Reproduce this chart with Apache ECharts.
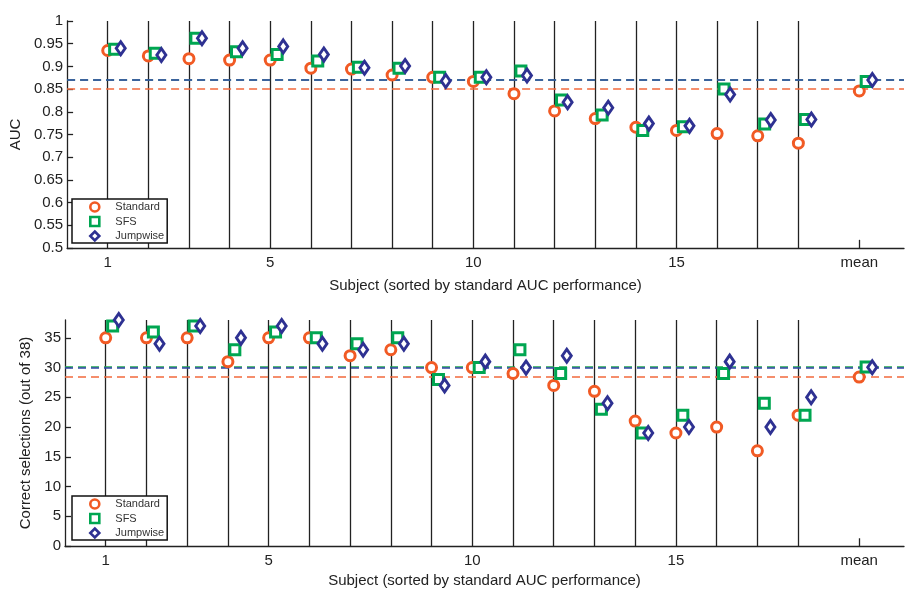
<!DOCTYPE html>
<html>
<head>
<meta charset="utf-8">
<script src="https://cdn.jsdelivr.net/npm/echarts@6/dist/echarts.min.js"></script>
<style>
  html, body { margin: 0; padding: 0; background: #fff; }
  #main { width: 907px; height: 589px; }
</style>
</head>
<body>
<div id="main"></div>
<script>
// subject positions (1..18) and the "mean" column
var xPos = [1, 2, 3, 4, 5, 6, 7, 8, 9, 10, 11, 12, 13, 14, 15, 16, 17, 18, 19.5];
var xTickLabels = { 1: '1', 5: '5', 10: '10', 15: '15', 19.5: 'mean' };

// AUC (top panel), last value = mean
var aucStandard = [0.935, 0.923, 0.917, 0.914, 0.914, 0.896, 0.894, 0.881, 0.876, 0.867, 0.840, 0.802, 0.785, 0.766, 0.759, 0.752, 0.747, 0.731, 0.846];
var aucSFS      = [0.938, 0.929, 0.962, 0.932, 0.926, 0.912, 0.898, 0.896, 0.876, 0.876, 0.890, 0.826, 0.793, 0.759, 0.767, 0.850, 0.773, 0.783, 0.867];
var aucJump     = [0.940, 0.925, 0.962, 0.940, 0.944, 0.926, 0.897, 0.901, 0.868, 0.876, 0.880, 0.821, 0.809, 0.774, 0.769, 0.838, 0.782, 0.783, 0.870];
var aucMeanLines = [0.8456, 0.8676, 0.870];

// correct selections (bottom panel), last value = mean
var selStandard = [35, 35, 35, 31, 35, 35, 32, 33, 30, 30, 29, 27, 26, 21, 19, 20, 16, 22, 28.4];
var selSFS      = [37, 36, 37, 33, 36, 35, 34, 35, 28, 30, 33, 29, 23, 19, 22, 29, 24, 22, 30.1];
var selJump     = [38, 34, 37, 35, 37, 34, 33, 34, 27, 31, 30, 32, 24, 19, 20, 31, 20, 25, 30.05];
var selMeanLines = [28.4, 30.1, 30.05];

var names = ['Standard', 'SFS', 'Jumpwise'];
var colors = ['#f15a24', '#00a651', '#2e3192'];
var lineColors = ['#f26a3d', '#1fa64f', '#3345a8'];
var offsets = [0, 0.17, 0.32];

var FONT = 'Liberation Sans, Arial, sans-serif';

function markerStyle(i) {
  if (i === 0) return { symbol: 'circle', symbolSize: 10 };
  if (i === 1) return { symbol: 'rect', symbolSize: 10 };
  return { symbol: 'diamond', symbolSize: [9, 13] };
}

function scatterSeries(idx, values, meanVal, i) {
  var m = markerStyle(i);
  return {
    name: names[i],
    type: 'scatter',
    xAxisIndex: idx,
    yAxisIndex: idx,
    symbol: m.symbol,
    symbolSize: m.symbolSize,
    z: 5,
    itemStyle: { color: '#fff', borderColor: colors[i], borderWidth: 3, opacity: 1 },
    data: values.map(function (v, k) { return [xPos[k] + offsets[i], v]; }),
    markLine: {
      silent: true,
      symbol: ['none', 'none'],
      label: { show: false },
      z: 3,
      lineStyle: { color: lineColors[i], type: [8, 5], width: 1.6 },
      data: [{ yAxis: meanVal }]
    }
  };
}

function frameSeries(idx, yMin, tickLen) {
  var lines = [];
  for (var k = 0; k < 18; k++) lines.push({ xAxis: xPos[k] });
  lines.push([{ coord: [19.5, yMin] }, { coord: [19.5, yMin + tickLen] }]);
  return {
    type: 'scatter',
    xAxisIndex: idx,
    yAxisIndex: idx,
    silent: true,
    data: [],
    markLine: {
      silent: true,
      symbol: ['none', 'none'],
      label: { show: false },
      z: 2,
      lineStyle: { color: '#222', type: 'solid', width: 1.3 },
      data: lines
    }
  };
}

function legendFor(top) {
  return {
    left: 72,
    top: top,
    orient: 'vertical',
    backgroundColor: '#fff',
    borderColor: '#111',
    borderWidth: 1.5,
    borderRadius: 0,
    padding: [2, 3, 1, 17],
    itemGap: 2.5,
    itemWidth: 9,
    itemHeight: 9,
    selectedMode: false,
    textStyle: { fontFamily: FONT, fontSize: 11, color: '#333', lineHeight: 12, padding: [0, 0, 0, 11] },
    data: names.map(function (n, i) {
      var m = markerStyle(i);
      return {
        name: n,
        icon: m.symbol,
        itemStyle: { color: '#fff', borderColor: colors[i], borderWidth: 2.6 }
      };
    })
  };
}

var xAxisBase = {
  type: 'value',
  min: 0,
  max: 20.6,
  interval: 0.5,
  splitLine: { show: false },
  axisTick: { show: false },
  axisLine: { onZero: false, lineStyle: { color: '#222', width: 1.3 } },
  axisLabel: {
    margin: 7,
    fontFamily: FONT, fontSize: 15, color: '#222',
    showMinLabel: true, showMaxLabel: true,
    formatter: function (v) { return xTickLabels[v] || ''; }
  },
  name: 'Subject (sorted by standard AUC performance)',
  nameLocation: 'middle',
  nameTextStyle: { fontFamily: FONT, fontSize: 15, color: '#222' }
};

var option = {
  animation: false,
  backgroundColor: '#fff',
  grid: [
    { left: 65, right: 3, top: 21, height: 227 },
    { left: 65, right: 3, top: 320, height: 226 }
  ],
  legend: [legendFor(199), legendFor(496)],
  xAxis: [
    Object.assign({}, xAxisBase, { gridIndex: 0, nameGap: 30 }),
    Object.assign({}, xAxisBase, { gridIndex: 1, nameGap: 27 })
  ],
  yAxis: [
    {
      gridIndex: 0, type: 'value', min: 0.5, max: 1, interval: 0.05,
      splitLine: { show: false },
      axisLine: { show: true, lineStyle: { color: '#222', width: 1.3 } },
      axisTick: { inside: true, length: 6, lineStyle: { color: '#222', width: 1.3 } },
      axisLabel: {
        margin: 4, fontFamily: FONT, fontSize: 15, color: '#222',
        formatter: function (v) { return String(Math.round(v * 100) / 100); }
      },
      name: 'AUC', nameLocation: 'middle', nameGap: 38,
      nameTextStyle: { fontFamily: FONT, fontSize: 15, color: '#222' }
    },
    {
      gridIndex: 1, type: 'value', min: 0, max: 38, interval: 5,
      splitLine: { show: false },
      axisLine: { show: true, lineStyle: { color: '#222', width: 1.3 } },
      axisTick: { inside: true, length: 6, lineStyle: { color: '#222', width: 1.3 } },
      axisLabel: {
        margin: 4, fontFamily: FONT, fontSize: 15, color: '#222',
        showMaxLabel: false,
        formatter: function (v) { return v % 5 === 0 ? String(v) : ''; }
      },
      name: 'Correct selections (out of 38)', nameLocation: 'middle', nameGap: 28,
      nameTextStyle: { fontFamily: FONT, fontSize: 15, color: '#222' }
    }
  ],
  series: [
    frameSeries(0, 0.5, 0.018),
    frameSeries(1, 0, 1.3),
    scatterSeries(0, aucStandard, aucMeanLines[0], 0),
    scatterSeries(0, aucSFS, aucMeanLines[1], 1),
    scatterSeries(0, aucJump, aucMeanLines[2], 2),
    scatterSeries(1, selStandard, selMeanLines[0], 0),
    scatterSeries(1, selSFS, selMeanLines[1], 1),
    scatterSeries(1, selJump, selMeanLines[2], 2)
  ]
};

var myChart = echarts.init(document.getElementById('main'));
myChart.setOption(option);
</script>
</body>
</html>
